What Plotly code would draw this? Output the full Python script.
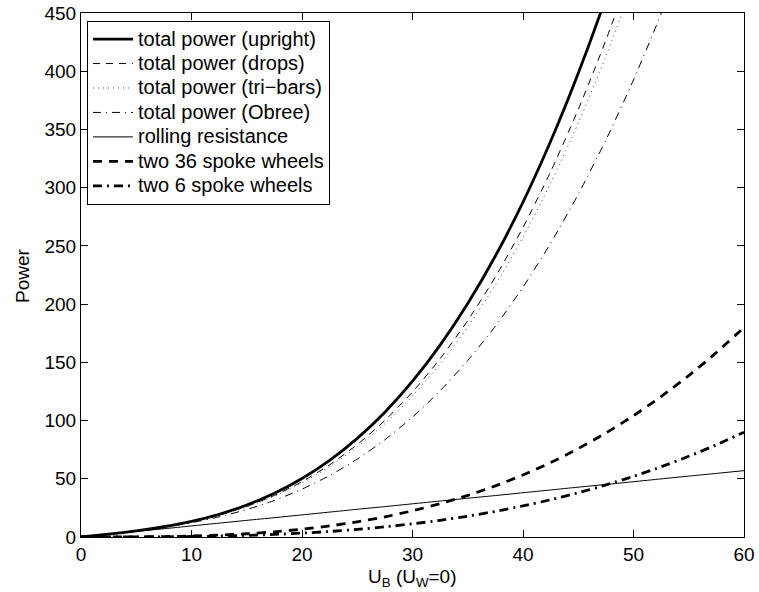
import plotly.graph_objects as go

U = [0, 2.5, 5, 7.5, 10, 12.5, 15, 17.5, 20, 22.5, 25, 27.5, 30, 32.5, 35,
     37.5, 40, 42.5, 45, 47.5, 50, 52.5, 55, 57.5, 60]

upright = [0, 2.4, 5.2, 8.8, 13.4, 19.5, 27.5, 37.5, 50.2, 65.8, 84.7, 107.2,
           133.8, 164.8, 200.5, 241.3, 287.6, 339.8, 398.2, 463.1, 535.0]
drops = [0, 2.4, 5.2, 8.6, 13.1, 18.8, 26.3, 35.7, 47.5, 62.0, 79.4, 100.1,
         124.6, 153.1, 185.9, 223.3, 265.8, 313.7, 367.2, 426.6, 492.5]
tribars = [0, 2.4, 5.2, 8.6, 12.9, 18.6, 25.9, 35.0, 46.4, 60.5, 77.4, 97.4,
           121.1, 148.6, 180.4, 216.5, 257.5, 303.7, 355.4, 412.7, 476.3]
obree = [0, 2.4, 5.1, 8.3, 12.3, 17.3, 23.6, 31.4, 41.1, 52.8, 66.9, 83.5,
         103.0, 125.6, 151.6, 181.1, 214.6, 252.3, 294.3, 340.9, 392.5, 449.3, 511.5]
rolling = [0, 2.4, 4.8, 7.1, 9.5, 11.9, 14.3, 16.6, 19.0, 21.4, 23.8, 26.1,
           28.5, 30.9, 33.3, 35.6, 38.0, 40.4, 42.8, 45.1, 47.5, 49.9, 52.3, 54.6, 57.0]
spoke36 = [0, 0.01, 0.1, 0.35, 0.83, 1.63, 2.81, 4.47, 6.67, 9.49, 13.0, 17.3,
           22.5, 28.6, 35.7, 43.9, 53.3, 63.9, 75.9, 89.3, 104.2, 120.6, 138.6, 158.4, 180.0]
spoke6 = [0, 0.0, 0.05, 0.18, 0.42, 0.81, 1.41, 2.23, 3.33, 4.75, 6.5, 8.7,
          11.3, 14.3, 17.9, 22.0, 26.7, 32.0, 38.0, 44.7, 52.1, 60.3, 69.3, 79.2, 90.0]

names = ["total power (upright)", "total power (drops)", "total power (tri\u2212bars)",
         "total power (Obree)", "rolling resistance", "two 36 spoke wheels",
         "two 6 spoke wheels"]

x_title = "U<sub>B</sub> (U<sub>W</sub>=0)"
y_title = "Power"

series = [upright, drops, tribars, obree, rolling, spoke36, spoke6]
styles = [
    dict(width=2.8, dash="solid", color="black"),
    dict(width=1, dash="7px,6px", color="black"),
    dict(width=1, dash="1px,4px", color="#444444"),
    dict(width=1, dash="8px,5px,1px,5px", color="black"),
    dict(width=1, dash="solid", color="black"),
    dict(width=2.8, dash="9px,7px", color="black"),
    dict(width=2.8, dash="9px,5px,2px,5px", color="black"),
]

fig = go.Figure()
for name, ys, st in zip(names, series, styles):
    fig.add_trace(go.Scatter(x=U[:len(ys)], y=ys, mode="lines",
                             name='<span style="font-size:20px">' + name + '</span>',
                             line=dict(shape="spline", smoothing=0.6, **st)))

FAM = "Liberation Sans, Arial, Helvetica, sans-serif"
tickfont = dict(family=FAM, size=19, color="black")
titlefont = dict(family=FAM, size=19, color="black")
axis_common = dict(showline=True, linecolor="black", linewidth=1, mirror="ticks",
                   ticks="inside", ticklen=7, tickcolor="black", showgrid=False,
                   zeroline=False, tickfont=tickfont, automargin=False)

fig.update_layout(
    width=759, height=592,
    margin=dict(l=81, r=15, t=13, b=55, autoexpand=False),
    paper_bgcolor="white", plot_bgcolor="white",
    font=tickfont,
    showlegend=True,
    legend=dict(x=0.009, y=0.985, xanchor="left", yanchor="top",
                bordercolor="black", borderwidth=1, bgcolor="white",
                font=dict(family=FAM, size=16.5, color="black"),
                tracegroupgap=0, itemwidth=40),
    xaxis=dict(range=[0, 60], tickvals=[0, 10, 20, 30, 40, 50, 60], **axis_common),
    yaxis=dict(range=[0, 450], tickvals=list(range(0, 451, 50)), **axis_common),
    annotations=[
        dict(text=x_title, x=0.5, y=-0.052, xref="paper", yref="paper",
             xanchor="center", yanchor="top", showarrow=False, font=titlefont),
        dict(text=y_title, x=-0.089, y=0.5, xref="paper", yref="paper",
             xanchor="center", yanchor="middle", textangle=-90,
             showarrow=False, font=titlefont),
    ],
)

fig.write_html("out.html", config={"displayModeBar": False},
               post_script="document.body.style.margin='0';document.body.style.overflow='hidden';")
